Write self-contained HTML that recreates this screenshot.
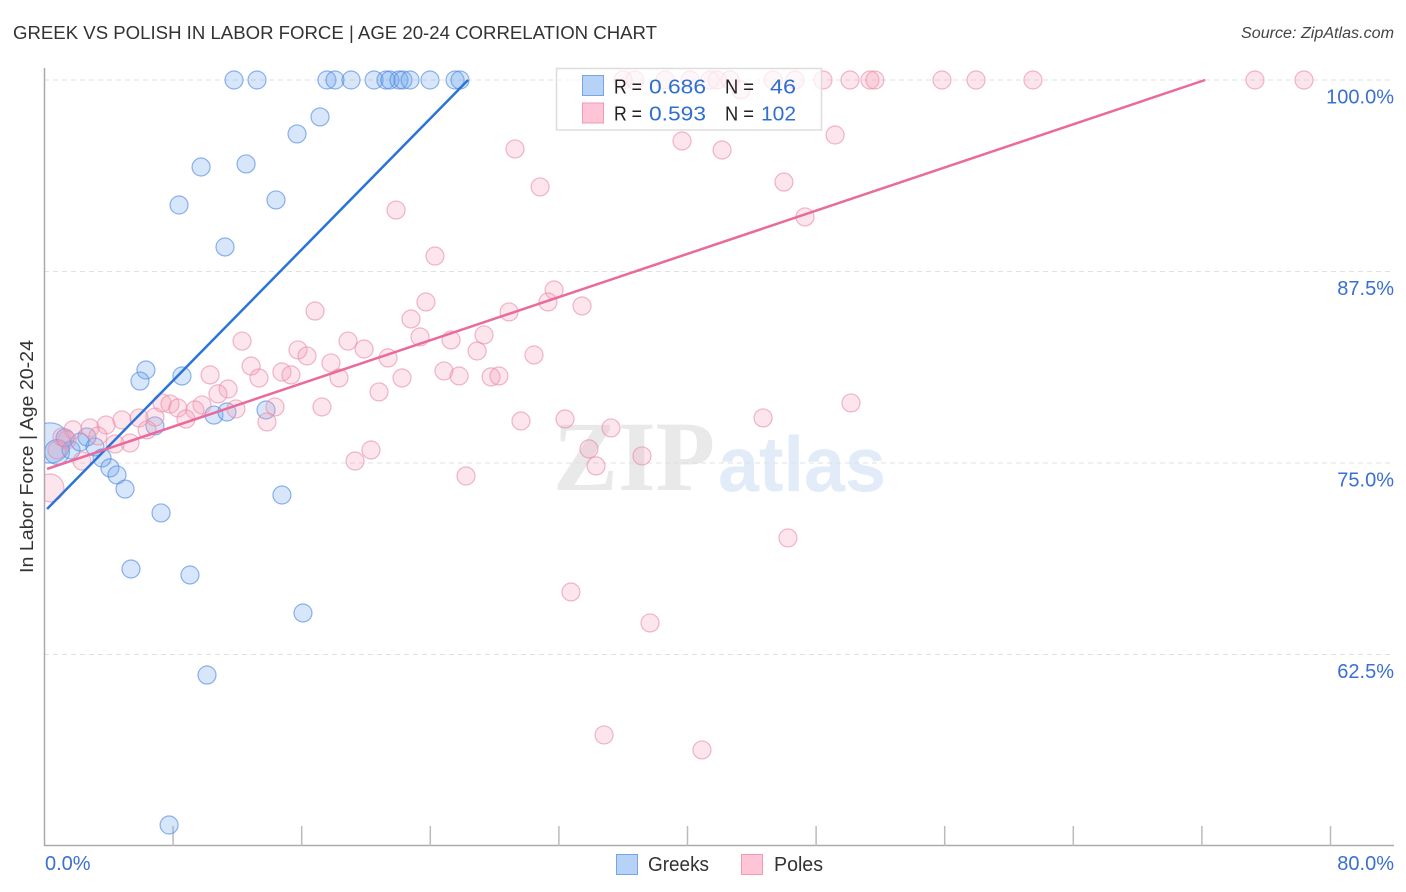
<!DOCTYPE html>
<html>
<head>
<meta charset="utf-8">
<title>Greek vs Polish in Labor Force | Age 20-24 Correlation Chart</title>
<style>
html,body{margin:0;padding:0;background:#fff;width:1406px;height:892px;overflow:hidden}
svg{display:block;font-family:"Liberation Sans",sans-serif}
</style>
</head>
<body>
<svg id="chart" width="1406" height="892" viewBox="0 0 1406 892" xmlns="http://www.w3.org/2000/svg">
  <defs>
    <clipPath id="plot-clip"><rect x="45" y="60" width="1349" height="786"/></clipPath>
  </defs>
  <rect width="1406" height="892" fill="#ffffff"/>
  <text x="13" y="39" font-size="18.5" fill="#333" textLength="644" lengthAdjust="spacingAndGlyphs">GREEK VS POLISH IN LABOR FORCE | AGE 20-24 CORRELATION CHART</text>
  <text x="1241" y="38" font-size="15.5" font-style="italic" fill="#444" textLength="153" lengthAdjust="spacingAndGlyphs">Source: ZipAtlas.com</text>

  <g>
    <text x="553" y="490" font-family="'Liberation Serif',serif" font-weight="bold" font-size="100" fill="#e9e9e9" textLength="162" lengthAdjust="spacingAndGlyphs">ZIP</text>
    <text x="718" y="491" font-weight="bold" font-size="78" fill="#e2ecf9" textLength="168" lengthAdjust="spacingAndGlyphs">atlas</text>
  </g>

  <g id="grid"></g>
  <g id="axes"></g>
  <text transform="translate(33,456.5) rotate(-90)" font-size="18.5" fill="#333" text-anchor="middle" textLength="233" lengthAdjust="spacingAndGlyphs">In Labor Force | Age 20-24</text>

  <g id="greek-points"></g>
  <g id="pole-points"></g>
  <g id="trends"></g>

  <g>
    <rect x="556.5" y="68.5" width="265" height="61.5" fill="#ffffff" fill-opacity="0.7" stroke="#dddddd" stroke-width="1.5"/>
    <rect x="582.5" y="75.5" width="21" height="20" fill="#b6d2f7" stroke="#76a5e6" stroke-width="1"/>
    <rect x="582.5" y="103" width="21" height="20" fill="#fdc5d6" stroke="#f09ab5" stroke-width="1"/>
    <text y="93.5" font-size="20" fill="#222"><tspan x="614" textLength="28" lengthAdjust="spacingAndGlyphs">R =</tspan><tspan x="649" fill="#2f6fd0" textLength="57" lengthAdjust="spacingAndGlyphs">0.686</tspan><tspan x="725" textLength="29" lengthAdjust="spacingAndGlyphs">N =</tspan><tspan x="770" fill="#2f6fd0" textLength="26" lengthAdjust="spacingAndGlyphs">46</tspan></text>
    <text y="120.5" font-size="20" fill="#222"><tspan x="614" textLength="28" lengthAdjust="spacingAndGlyphs">R =</tspan><tspan x="649" fill="#2f6fd0" textLength="57" lengthAdjust="spacingAndGlyphs">0.593</tspan><tspan x="725" textLength="29" lengthAdjust="spacingAndGlyphs">N =</tspan><tspan x="761" fill="#2f6fd0" textLength="35" lengthAdjust="spacingAndGlyphs">102</tspan></text>
  </g>

  <g>
    <rect x="616.5" y="854.5" width="21" height="20" fill="#b6d2f7" stroke="#76a5e6" stroke-width="1"/>
    <text x="648" y="871" font-size="20" fill="#333" textLength="61" lengthAdjust="spacingAndGlyphs">Greeks</text>
    <rect x="741.5" y="854.5" width="21" height="20" fill="#fdc5d6" stroke="#f09ab5" stroke-width="1"/>
    <text x="774" y="871" font-size="20" fill="#333" textLength="49" lengthAdjust="spacingAndGlyphs">Poles</text>
  </g>
</svg>
<script>
const xTickValues = [0, 8, 16, 24, 32, 40, 48, 56, 64, 72, 80];
const xTickLabels = ["0.0%", "80.0%"];
const yTickValues = [100, 87.5, 75, 62.5];
const yTickLabels = ["100.0%", "87.5%", "75.0%", "62.5%"];

const greekX = [0.34, 0.78, 11.79, 13.22, 17.57, 18.07, 19.07, 20.50, 21.24, 21.49, 22.05, 22.30, 22.74, 23.98, 25.54, 25.85,
  17.14, 15.71, 9.74, 12.54, 8.37, 14.40, 11.23, 6.31, 5.94, 8.55, 13.78, 10.54, 11.35, 6.87,
  1.28, 1.65, 2.64, 2.21, 3.14, 3.58, 4.07, 4.51, 5.01, 7.25, 14.77, 5.38, 9.05, 16.08, 10.11, 7.75];
const greekY = [76.31, 75.72, 100, 100, 100, 100, 100, 100, 100, 100, 100, 100, 100, 100, 100, 100,
  97.59, 96.48, 94.32, 94.52, 91.84, 92.17, 89.10, 81.07, 80.35, 80.68, 78.46, 78.13, 78.33, 77.42,
  76.63, 75.85, 76.70, 76.37, 76.05, 75.33, 74.68, 74.22, 73.30, 71.74, 72.91, 68.08, 67.69, 65.21, 61.16, 51.37];
const greekWeights = [5, 1.9];

const poleX = [0.34, 0.78, 35.99, 36.73, 38.60, 40.16, 41.40, 41.84, 42.64, 43.33, 45.32, 46.69, 48.43, 50.11, 51.35, 51.66, 55.83, 57.95, 61.49, 75.30, 78.35,
  29.27, 39.66, 42.15, 49.18, 30.83, 46.00, 21.87, 47.31, 24.29,
  31.70, 23.73, 31.32, 33.44, 16.83, 28.90, 22.80,
  12.29, 23.36, 25.29, 27.34, 18.88, 19.88, 15.77, 16.33, 26.91, 30.45,
  12.85, 17.82, 21.37, 10.30, 13.34, 14.77, 15.33, 18.32, 22.24, 24.85, 25.79, 27.78, 28.27,
  11.42, 10.79, 20.81, 50.17, 9.80, 7.31, 7.81, 8.30, 9.36, 11.91, 14.34, 17.26,
  13.84, 8.80, 6.87, 5.88, 4.82, 3.83, 2.83, 1.77, 6.38, 3.33, 5.32, 4.39, 1.40, 1.09, 2.33,
  19.32, 20.31, 26.22, 29.64, 32.38, 35.24, 33.87, 34.31, 37.17, 44.70, 46.25, 32.75, 37.67, 34.81, 40.90];
const poleY = [73.37, 75.85, 100, 100, 100, 100, 100, 100, 100, 99.35, 100, 100, 100, 100, 100, 100, 100, 100, 100, 100, 100,
  95.50, 96.02, 95.43, 96.41, 93.02, 93.34, 91.51, 91.06, 88.51,
  86.29, 85.51, 85.51, 85.25, 84.92, 84.86, 84.40,
  82.96, 83.23, 83.03, 83.36, 82.96, 82.44, 82.38, 81.99, 82.31, 82.05,
  81.33, 81.53, 81.86, 80.75, 80.55, 80.94, 80.75, 80.55, 80.55, 81.01, 80.68, 80.62, 80.68,
  79.83, 79.51, 79.64, 78.92, 78.79, 78.92, 78.85, 78.59, 78.46, 78.53, 78.66, 78.66,
  77.68, 77.87, 78.00, 77.94, 77.81, 77.48, 77.29, 77.16, 77.16, 76.76, 76.31, 76.24, 76.50, 76.70, 75.13,
  75.13, 75.85, 74.15, 77.74, 77.87, 77.29, 75.92, 74.81, 75.46, 77.94, 70.11, 66.58, 64.56, 57.25, 56.27];
const poleWeights = [2.4];

const greekTrendX = [0.16, 26.35];
const greekTrendY = [72.0, 100];
const poleTrendX = [0.16, 72.2];
const poleTrendY = [74.61, 100];

const SVG_NS = "http://www.w3.org/2000/svg";
function xScale(v) { return 44.5 + v * 16.075; }
function yScale(v) { return 80 + (100 - v) * 15.32; }
function radius(w) { return 9 * Math.sqrt(w); }

function make(tag, attrs, parent) {
  const el = document.createElementNS(SVG_NS, tag);
  for (const k in attrs) el.setAttribute(k, attrs[k]);
  parent.appendChild(el);
  return el;
}

const gridG = document.getElementById("grid");
const axesG = document.getElementById("axes");

yTickValues.forEach(function (v, i) {
  const line = make("line", { x1: 44, x2: 1394, y1: yScale(v), y2: yScale(v), stroke: "#e0e0e0", "stroke-width": 1, "stroke-dasharray": "5 4" }, gridG);
  
  
  const label = make("text", { x: 1394, y: yScale(v) + 23.5, "font-size": 20, fill: "#3b6fd1", "text-anchor": "end" }, axesG);
  label.textContent = yTickLabels[i];
  
  
});

const yAxisLine = make("line", { x1: 44.5, x2: 44.5, y1: 68, y2: 846, stroke: "#aaaaaa", "stroke-width": 1.5 }, axesG);


const xAxisLine = make("line", { x1: 44, x2: 1394, y1: 845.5, y2: 845.5, stroke: "#aaaaaa", "stroke-width": 1.5 }, axesG);



xTickValues.forEach(function (v) {
  if (v === 0) return;
  const tick = make("line", { x1: xScale(v), x2: xScale(v), y1: 826, y2: 846, stroke: "#bbbbbb", "stroke-width": 1.5 }, axesG);
  
  
});

const xLabelLeft = make("text", { x: 45, y: 870, "font-size": 20, fill: "#3b6fd1" }, axesG);
xLabelLeft.textContent = xTickLabels[0];


const xLabelRight = make("text", { x: 1394, y: 870, "font-size": 20, fill: "#3b6fd1", "text-anchor": "end" }, axesG);
xLabelRight.textContent = xTickLabels[1];



function drawPoints(groupId, xs, ys, weights, fill, stroke, name) {
  const g = document.getElementById(groupId);
  xs.forEach(function (xv, i) {
    const c = make("circle", {
      cx: xScale(xv), cy: yScale(ys[i]), r: radius(weights[i] === undefined ? 1 : weights[i]),
      fill: fill, "fill-opacity": 0.28, stroke: stroke, "stroke-opacity": 0.62, "stroke-width": 1.2,
      "clip-path": "url(#plot-clip)"
    }, g);
    
    
  });
}
drawPoints("greek-points", greekX, greekY, greekWeights, "#6ea6ee", "#4a86e0", "greek-point");
drawPoints("pole-points", poleX, poleY, poleWeights, "#f6a0ba", "#e98aa8", "pole-point");

const trendsG = document.getElementById("trends");
const greekLine = make("line", { x1: xScale(greekTrendX[0]), y1: yScale(greekTrendY[0]), x2: xScale(greekTrendX[1]), y2: yScale(greekTrendY[1]), stroke: "#2a73d8", "stroke-width": 2.5 }, trendsG);


const poleLine = make("line", { x1: xScale(poleTrendX[0]), y1: yScale(poleTrendY[0]), x2: xScale(poleTrendX[1]), y2: yScale(poleTrendY[1]), stroke: "#e96a9b", "stroke-width": 2.5 }, trendsG);


</script>
</body>
</html>
